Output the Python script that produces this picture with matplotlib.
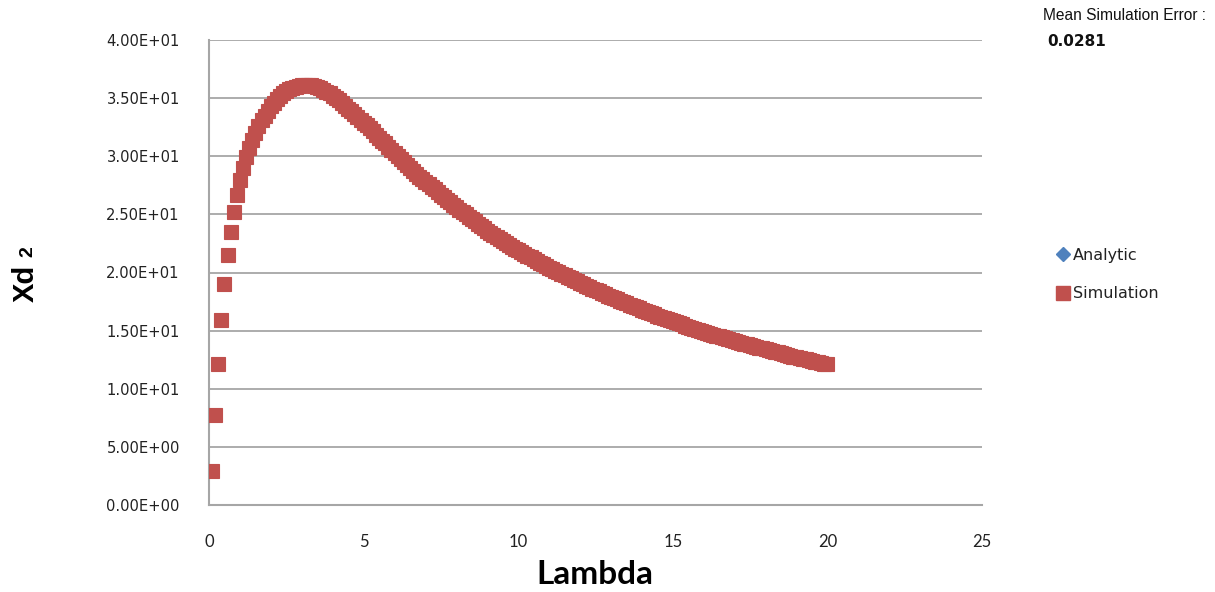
import matplotlib
matplotlib.use("Agg")
import matplotlib.pyplot as plt
from matplotlib.lines import Line2D

# ---- data ----
lambda_values = [
    0.1, 0.2, 0.3, 0.4, 0.5, 0.6, 0.7, 0.8, 0.9, 1.0,
    1.1, 1.2, 1.3, 1.4, 1.5, 1.6, 1.7, 1.8, 1.9, 2.0,
    2.1, 2.2, 2.3, 2.4, 2.5, 2.6, 2.7, 2.8, 2.9, 3.0,
    3.1, 3.2, 3.3, 3.4, 3.5, 3.6, 3.7, 3.8, 3.9, 4.0,
    4.1, 4.2, 4.3, 4.4, 4.5, 4.6, 4.7, 4.8, 4.9, 5.0,
    5.1, 5.2, 5.3, 5.4, 5.5, 5.6, 5.7, 5.8, 5.9, 6.0,
    6.1, 6.2, 6.3, 6.4, 6.5, 6.6, 6.7, 6.8, 6.9, 7.0,
    7.1, 7.2, 7.3, 7.4, 7.5, 7.6, 7.7, 7.8, 7.9, 8.0,
    8.1, 8.2, 8.3, 8.4, 8.5, 8.6, 8.7, 8.8, 8.9, 9.0,
    9.1, 9.2, 9.3, 9.4, 9.5, 9.6, 9.7, 9.8, 9.9, 10.0,
    10.1, 10.2, 10.3, 10.4, 10.5, 10.6, 10.7, 10.8, 10.9, 11.0,
    11.1, 11.2, 11.3, 11.4, 11.5, 11.6, 11.7, 11.8, 11.9, 12.0,
    12.1, 12.2, 12.3, 12.4, 12.5, 12.6, 12.7, 12.8, 12.9, 13.0,
    13.1, 13.2, 13.3, 13.4, 13.5, 13.6, 13.7, 13.8, 13.9, 14.0,
    14.1, 14.2, 14.3, 14.4, 14.5, 14.6, 14.7, 14.8, 14.9, 15.0,
    15.1, 15.2, 15.3, 15.4, 15.5, 15.6, 15.7, 15.8, 15.9, 16.0,
    16.1, 16.2, 16.3, 16.4, 16.5, 16.6, 16.7, 16.8, 16.9, 17.0,
    17.1, 17.2, 17.3, 17.4, 17.5, 17.6, 17.7, 17.8, 17.9, 18.0,
    18.1, 18.2, 18.3, 18.4, 18.5, 18.6, 18.7, 18.8, 18.9, 19.0,
    19.1, 19.2, 19.3, 19.4, 19.5, 19.6, 19.7, 19.8, 19.9, 20.0,
]

simulation_values = [
    2.9, 7.7, 12.1, 15.9, 19.0, 21.5, 23.5, 25.2, 26.7, 28.0,
    29.0, 29.9, 30.7, 31.4, 32.0, 32.6, 33.1, 33.5, 33.9, 34.3,
    34.6, 34.9, 35.15, 35.4, 35.6, 35.75, 35.9, 36.0, 36.05, 36.1,
    36.15, 36.15, 36.1, 36.05, 35.95, 35.85, 35.7, 35.55, 35.4, 35.2,
    35.0, 34.8, 34.55, 34.35, 34.1, 33.85, 33.6, 33.4, 33.15, 32.9,
    32.65, 32.4, 32.15, 31.85, 31.6, 31.35, 31.1, 30.8, 30.55, 30.3,
    30.05, 29.8, 29.5, 29.25, 29.0, 28.75, 28.5, 28.25, 28.05, 27.8,
    27.6, 27.35, 27.15, 26.9, 26.7, 26.5, 26.25, 26.05, 25.8, 25.6,
    25.4, 25.2, 25.0, 24.8, 24.6, 24.4, 24.2, 24.0, 23.8, 23.6,
    23.4, 23.25, 23.05, 22.9, 22.7, 22.55, 22.4, 22.2, 22.05, 21.9,
    21.75, 21.6, 21.45, 21.3, 21.15, 21.0, 20.85, 20.7, 20.55, 20.4,
    20.27, 20.14, 20.01, 19.88, 19.75, 19.62, 19.49, 19.36, 19.23, 19.1,
    18.98, 18.86, 18.74, 18.62, 18.5, 18.38, 18.26, 18.14, 18.02, 17.9,
    17.79, 17.68, 17.57, 17.46, 17.35, 17.24, 17.13, 17.02, 16.91, 16.8,
    16.7, 16.6, 16.5, 16.4, 16.3, 16.2, 16.1, 16.0, 15.9, 15.8,
    15.71, 15.62, 15.53, 15.44, 15.35, 15.26, 15.17, 15.08, 14.99, 14.9,
    14.82, 14.74, 14.66, 14.58, 14.5, 14.42, 14.34, 14.26, 14.18, 14.1,
    14.03, 13.96, 13.89, 13.82, 13.75, 13.68, 13.61, 13.54, 13.47, 13.4,
    13.33, 13.26, 13.19, 13.12, 13.05, 12.98, 12.91, 12.84, 12.77, 12.7,
    12.64, 12.58, 12.52, 12.46, 12.4, 12.34, 12.28, 12.22, 12.16, 12.1,
]

# analytic curve coincides with the simulation (hidden under the squares)
analytic_values = simulation_values

x_ticks = [0, 5, 10, 15, 20, 25]
y_ticks = [0, 5, 10, 15, 20, 25, 30, 35, 40]
y_tick_labels = ["0.00E+00", "5.00E+00", "1.00E+01", "1.50E+01", "2.00E+01",
                 "2.50E+01", "3.00E+01", "3.50E+01", "4.00E+01"]
series_names = ["Analytic", "Simulation"]
mean_error_text = "0.0281"

# ---- figure ----
W, H = 1215, 592
fig = plt.figure(figsize=(W / 100, H / 100), dpi=100)
fig.patch.set_facecolor("white")

ax_left, ax_right, ax_top, ax_bottom = 209, 982, 40, 505
ax = fig.add_axes([ax_left / W, 1 - ax_bottom / H,
                   (ax_right - ax_left) / W, (ax_bottom - ax_top) / H])

blue = "#4f81bd"
red = "#c0504d"
grid_col = "#a6a6a6"

ax.plot(lambda_values, analytic_values, linestyle="none", marker="D",
        markersize=4.5, color=blue, zorder=3)
ax.plot(lambda_values, simulation_values, linestyle="none", marker="s",
        markersize=10.0, markerfacecolor=red, markeredgecolor=red,
        markeredgewidth=0.8, zorder=4)

ax.set_xlim(0, 25)
ax.set_ylim(0, 40)
ax.set_xticks(x_ticks)
ax.set_yticks(y_ticks)
ax.set_yticklabels(y_tick_labels)
ax.yaxis.grid(True, color=grid_col, linewidth=1.3)
ax.set_axisbelow(True)
ax.tick_params(axis="both", length=0)
ax.tick_params(axis="y", pad=21)
ax.tick_params(axis="x", pad=21)
for lab in ax.get_yticklabels():
    lab.set_fontfamily("DejaVu Sans")
    lab.set_fontsize(10.6)
    lab.set_color("#222222")
for lab in ax.get_xticklabels():
    lab.set_fontfamily(["Lato", "DejaVu Sans"])
    lab.set_fontsize(12)
    lab.set_color("#222222")

for side in ["top", "right"]:
    ax.spines[side].set_visible(False)
for side in ["left", "bottom"]:
    ax.spines[side].set_color(grid_col)
    ax.spines[side].set_linewidth(1.5)

# axis titles
fig.text(595 / W, 1 - 575 / H, "Lambda", ha="center", va="center",
         fontsize=24, fontweight="bold", family=["Lato", "DejaVu Sans"])
fig.text(26 / W, 1 - 283 / H, "Xd", ha="center", va="center", rotation=90,
         fontsize=21, fontweight="bold", family=["Liberation Sans", "DejaVu Sans"])
fig.text(28 / W, 1 - 252 / H, "2", ha="center", va="center", rotation=90,
         fontsize=14, fontweight="bold", family=["Liberation Sans", "DejaVu Sans"])

# legend
handles = [
    Line2D([], [], linestyle="none", marker="D", markersize=7, color=blue),
    Line2D([], [], linestyle="none", marker="s", markersize=9.5, color=red),
]
fig.legend(handles, series_names, loc="upper left",
           bbox_to_anchor=(1057 / W, 1 - 248 / H), frameon=False,
           borderpad=0, borderaxespad=0, handlelength=0.7, handletextpad=0.3,
           labelspacing=1.45, prop={"family": "DejaVu Sans", "size": 11.5},
           labelcolor="#222222")

# mean simulation error note
fig.text(1043 / W, 1 - 16 / H, "Mean Simulation Error :", ha="left", va="center",
         fontsize=11.2, family=["Liberation Sans", "DejaVu Sans"], color="#111111")
fig.text(1047 / W, 1 - 41 / H, mean_error_text, ha="left", va="center",
         fontsize=11, fontweight="bold", family="DejaVu Sans", color="#111111")

fig.savefig("out.png", dpi=100, facecolor="white")
